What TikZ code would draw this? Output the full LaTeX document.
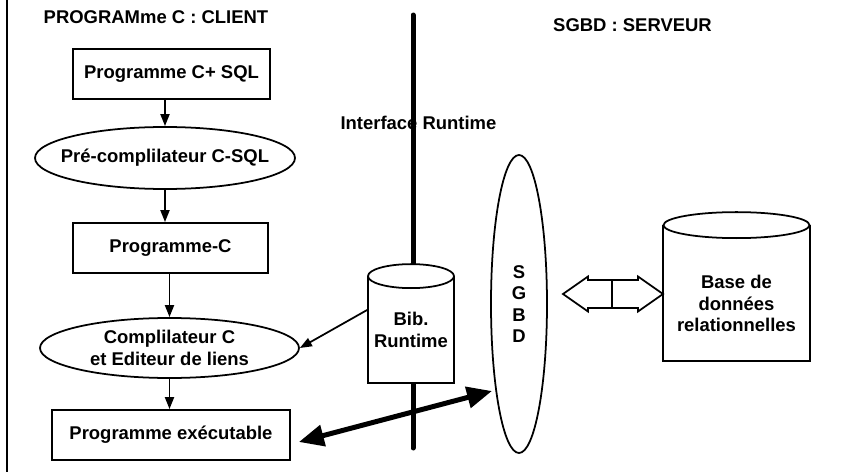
\documentclass[tikz,border=0pt]{standalone}
\usepackage{fontspec}
\setmainfont{Liberation Sans}
\usetikzlibrary{arrows.meta,shapes.geometric}

\begin{document}
\begin{tikzpicture}[
    font=\bfseries\fontsize{10.5}{12.2}\selectfont,
    stagebox/.style={draw, line width=1pt, minimum height=1cm, inner sep=0pt},
    stageell/.style={draw, ellipse, line width=1pt, inner sep=0pt},
    store/.style={draw, fill=white, line width=1pt, inner sep=0pt},
    storelid/.style={draw, fill=white, line width=1pt},
    flow/.style={-{Triangle[length=2.4mm, width=1.8mm]}, line width=1pt},
    bigflow/.style={{Triangle[length=5mm, width=4.2mm]}-{Triangle[length=5mm, width=4.2mm]},
      line width=1mm}
  ]
    \useasboundingbox (0,0) rectangle (17.16,-9.44);
    \draw[line width=1pt] (0.14,0) -- (0.14,-9.44);

    \node (client) at (3.12,-0.34) {PROGRAMme C : CLIENT};
    \node (server) at (12.65,-0.50) {SGBD : SERVEUR};

    \node[stagebox, minimum width=3.94cm] (src) at (3.43,-1.48) {Programme C+ SQL};
    \node[stageell, minimum width=5.2cm, minimum height=1.24cm,
      label=center:{Pré-complilateur C-SQL}] (precomp) at (3.30,-3.16) {};
    \node[stagebox, minimum width=3.9cm] (csrc) at (3.41,-4.96) {Programme-C};
    \node[stageell, minimum width=5.18cm, minimum height=1.2cm,
      label={[align=center]center:{Complilateur C\\et Editeur de liens}}]
      (comp) at (3.39,-6.96) {};
    \node[stagebox, minimum width=4.76cm] (exe) at (3.42,-8.70) {Programme exécutable};

    \draw[flow] (src.south -| precomp) -- (precomp.north);
    \draw[flow] (precomp.south) -- (precomp.south |- csrc.north);
    \draw[flow] (csrc.south -| comp) -- (comp.north);
    \draw[flow] (comp.south) -- (comp.south |- exe.north);

    \node (iface) at (8.37,-2.46) {Interface Runtime};
    \draw[line width=1mm, line cap=round] (8.26,-0.30) -- (8.26,-8.96);
    \node[store, minimum width=1.72cm, minimum height=2.12cm, align=center]
      (bib) at (8.22,-6.60) {Bib.\\Runtime};
    \draw[storelid] (bib.north) ellipse [x radius=.86cm, y radius=.24cm];
    \draw[flow] ([yshift=4mm]bib.west) -- (comp.east);

    \node[stageell, minimum width=1.12cm, minimum height=5.96cm,
      label={[align=center]center:{S\\G\\B\\D}}] (sgbd) at (10.38,-6.08) {};
    \draw[bigflow] ([shift={(0.16,-0.14)}]exe.east) -- ([shift={(-0.54,-1.74)}]sgbd.center);

    \node[store, minimum width=2.94cm, minimum height=2.7cm,
      label={[align=center, yshift=-2mm]center:{Base de\\données\\relationnelles}}]
      (base) at (14.73,-5.87) {};
    \draw[storelid] (base.north) ellipse [x radius=1.46cm, y radius=.26cm];

    \draw[line width=1pt, fill=white] (11.26,-5.88) -- (11.76,-5.53) -- (11.76,-5.60)
      -- (12.76,-5.60) -- (12.76,-5.53) -- (13.26,-5.88) -- (12.76,-6.23)
      -- (12.76,-6.16) -- (11.76,-6.16) -- (11.76,-6.23) -- cycle;
    \draw[line width=1pt] (12.24,-5.60) -- (12.24,-6.16);
  \end{tikzpicture}
\end{document}
